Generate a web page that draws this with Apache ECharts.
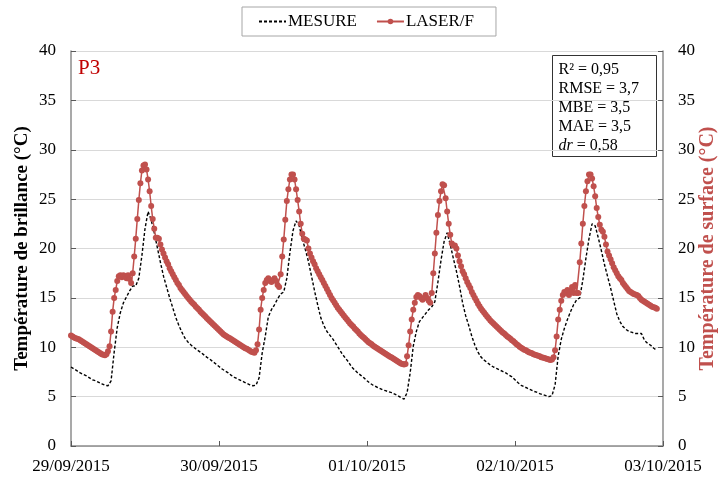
<!DOCTYPE html>
<html>
<head>
<meta charset="utf-8">
<script src="https://cdn.jsdelivr.net/npm/echarts@6/dist/echarts.min.js"></script>
<style>
html,body{margin:0;padding:0;background:#fff;}
#chart{width:720px;height:477px;}
</style>
</head>
<body>
<div id="chart"></div>
<script>
// x axis: hours since 29/09/2015 00:00
const dateLabels = ['29/09/2015', '30/09/2015', '01/10/2015', '02/10/2015', '03/10/2015'];
const yTicks = [0, 5, 10, 15, 20, 25, 30, 35, 40];
const seriesNames = ['MESURE', 'LASER/F'];
const mesureStepHours = 0.5;
const laserStepHours = 0.25;

// MESURE (black dashed), every 30 min
const mesure = [
  8.0, 7.8, 7.6, 7.4, 7.25, 7.1, 6.9, 6.7, 6.6, 6.45,
  6.3, 6.15, 6.1, 6.6, 9.5, 12.0, 13.5, 14.5, 15.1, 15.7,
  16.2, 16.2, 17.0, 19.3, 22.0, 23.75, 22.9, 21.6, 20.1, 18.6,
  17.2, 16.1, 15.0, 14.0, 13.0, 12.2, 11.5, 10.9, 10.5, 10.2,
  9.95, 9.7, 9.5, 9.25, 9.0, 8.8, 8.55, 8.3, 8.05, 7.8,
  7.6, 7.4, 7.15, 6.95, 6.8, 6.65, 6.5, 6.35, 6.2, 6.1,
  6.15, 6.9, 9.4, 11.1, 13.1, 13.8, 14.3, 14.9, 15.4, 15.6,
  17.0, 19.6, 21.8, 22.8, 22.3, 21.0, 19.9, 18.7, 17.2, 15.7,
  14.3, 13.0, 12.2, 11.6, 11.2, 10.8, 10.3, 9.8, 9.3, 8.9,
  8.5, 8.0, 7.7, 7.4, 7.15, 6.9, 6.6, 6.35, 6.15, 6.0,
  5.85, 5.7, 5.6, 5.5, 5.4, 5.25, 5.1, 4.9, 4.75, 5.4,
  7.4, 10.1, 11.6, 12.6, 13.0, 13.4, 13.8, 14.1, 14.6, 16.6,
  18.8, 20.7, 21.6, 20.4, 19.0, 17.7, 16.2, 14.5, 13.2, 12.2,
  11.1, 10.2, 9.5, 9.0, 8.7, 8.45, 8.2, 8.0, 7.85, 7.7,
  7.55, 7.4, 7.2, 7.0, 6.7, 6.4, 6.15, 6.0, 5.85, 5.7,
  5.55, 5.45, 5.3, 5.2, 5.1, 5.0, 5.1, 6.2, 9.1, 10.8,
  11.9, 12.8, 13.6, 14.3, 14.8, 15.0, 16.8, 19.0, 21.0, 22.5,
  22.3, 21.1, 19.8, 18.4, 17.2, 16.0, 14.7, 13.4, 12.6, 12.1,
  11.8, 11.6, 11.5, 11.4, 11.4, 11.4, 10.7, 10.4, 10.2, 9.9,
  9.7
];

// LASER/F (red with markers), every 15 min
const laser = [
  11.2, 11.1, 11.0, 10.9,   10.85, 10.8, 10.7, 10.6,   10.5, 10.4, 10.3, 10.2,
  10.1, 10.0, 9.9, 9.8,     9.7, 9.6, 9.5, 9.4,        9.3, 9.25, 9.2, 9.3,
  9.6, 10.1, 11.6, 13.6,    15.0, 15.8, 16.7, 17.2,    17.3, 17.1, 17.3, 17.2,
  17.0, 17.3, 16.9, 16.5,   17.5, 19.2, 21.0, 23.0,    24.9, 26.6, 27.9, 28.4,
  28.5, 28.0, 27.0, 25.8,   24.3, 23.0, 22.0, 21.1,    21.1, 21.0, 20.4, 19.9,
  19.5, 19.1, 18.7, 18.4,   18.0, 17.7, 17.4, 17.1,    16.8, 16.5, 16.3, 16.0,
  15.8, 15.6, 15.4, 15.2,   15.0, 14.8, 14.6, 14.45,   14.3, 14.1, 13.95, 13.8,
  13.6, 13.45, 13.3, 13.15, 12.95, 12.8, 12.65, 12.5,  12.35, 12.2, 12.05, 11.9,
  11.75, 11.6, 11.45, 11.3, 11.2, 11.1, 11.0, 10.9,    10.8, 10.7, 10.6, 10.5,
  10.4, 10.3, 10.2, 10.1,   10.0, 9.9, 9.85, 9.75,     9.65, 9.55, 9.5, 9.45,
  9.7, 10.3, 11.8, 13.8,    15.0, 15.8, 16.5, 16.8,    17.0, 16.7, 16.6, 16.8,
  17.0, 16.7, 16.3, 16.1,   17.4, 19.2, 20.9, 22.9,    24.8, 26.0, 27.0, 27.5,
  27.5, 27.0, 26.0, 24.9,   23.75, 22.5, 21.5, 21.0,   20.9, 20.8, 20.0, 19.5,
  19.1, 18.7, 18.4, 18.0,   17.7, 17.4, 17.1, 16.8,    16.5, 16.2, 15.9, 15.6,
  15.3, 15.0, 14.75, 14.5,  14.25, 14.0, 13.8, 13.6,   13.4, 13.2, 13.0, 12.8,
  12.6, 12.4, 12.25, 12.1,  11.9, 11.75, 11.6, 11.4,   11.25, 11.1, 10.95, 10.8,
  10.65, 10.5, 10.4, 10.3,  10.15, 10.05, 9.95, 9.85,  9.75, 9.65, 9.55, 9.45,
  9.35, 9.25, 9.15, 9.05,   8.95, 8.85, 8.75, 8.65,    8.55, 8.45, 8.35, 8.3,
  8.25, 8.3, 9.1, 10.2,     11.6, 12.8, 13.8, 14.5,    15.1, 15.3, 15.2, 15.0,
  14.8, 15.0, 15.3, 15.0,   14.7, 14.5, 15.5, 17.5,    19.5, 21.6, 23.4, 24.8,
  25.8, 26.5, 26.4, 25.1,   23.75, 22.5, 21.4, 20.5,   20.3, 20.3, 20.0, 19.3,
  18.7, 18.2, 17.7, 17.4,   17.0, 16.6, 16.3, 16.0,    15.6, 15.3, 15.0, 14.7,
  14.4, 14.15, 13.9, 13.7,  13.5, 13.3, 13.1, 12.9,    12.7, 12.55, 12.4, 12.25,
  12.1, 11.95, 11.8, 11.65, 11.5, 11.4, 11.25, 11.1,   11.0, 10.85, 10.7, 10.6,
  10.45, 10.3, 10.2, 10.05, 9.95, 9.85, 9.75, 9.7,     9.6, 9.5, 9.45, 9.4,
  9.3, 9.25, 9.2, 9.15,     9.1, 9.0, 8.95, 8.9,       8.85, 8.8, 8.75, 8.7,
  8.75, 9.0, 9.7, 11.1,     12.8, 13.8, 14.7, 15.3,    15.6, 15.5, 15.8, 15.3,
  15.6, 16.1, 15.5, 16.3,   15.5, 15.5, 18.6, 20.5,    22.5, 24.3, 25.8, 26.8,
  27.5, 27.5, 27.1, 26.3,   25.3, 24.1, 23.2, 22.4,    21.9, 21.7, 21.2, 20.4,
  19.7, 19.3, 18.9, 18.5,   18.1, 17.8, 17.5, 17.2,    17.0, 16.8, 16.5, 16.3,
  16.1, 15.9, 15.7, 15.6,   15.5, 15.4, 15.35, 15.3,   15.2, 15.0, 14.8, 14.7,
  14.6, 14.5, 14.4, 14.3,   14.2, 14.1, 14.05, 14.0,   13.9
];

const statNames = ['R² = ', 'RMSE = ', 'MBE = ', 'MAE = ', 'dr'];
const statValues = ['0,95', '3,7', '3,5', '3,5', '0,58'];
const panelLabel = 'P3';

const FONT = '"Liberation Serif", "Times New Roman", serif';
const RED = '#c0504d';

const mesurePairs = mesure.map((v, i) => [i * mesureStepHours, v]);
const laserPairs = laser.map((v, i) => [i * laserStepHours, v]);

const chart = echarts.init(document.getElementById('chart'), null, {renderer: 'canvas'});

const statLines = statNames.map((n, i) => {
  if (n === 'dr') return '{it|dr} = ' + statValues[i];
  return n + statValues[i];
}).join('\n');

const yAxisCommon = {
  type: 'value', min: yTicks[0], max: yTicks[yTicks.length - 1], interval: 5,
  axisLine: {show: true, lineStyle: {color: '#8c8c8c', width: 1.5}},
  axisTick: {show: true, inside: true, length: 5, lineStyle: {color: '#595959', width: 1}},
  axisLabel: {color: '#000', fontFamily: FONT, fontSize: 17, margin: 15},
  nameLocation: 'middle', nameRotate: 90, nameMoveOverlap: false,
};

chart.setOption({
  animation: false,
  backgroundColor: '#fff',
  grid: {left: 71, right: 57, top: 51, bottom: 31, containLabel: false, outerBoundsMode: 'none'},
  legend: {
    data: [
      {name: seriesNames[0], itemStyle: {opacity: 0}},
      {name: seriesNames[1]}
    ],
    left: 242, top: 7,
    padding: [6, 22, 6, 16],
    itemGap: 19, itemWidth: 27, itemHeight: 7,
    borderColor: '#a6a6a6', borderWidth: 1,
    textStyle: {fontFamily: FONT, fontSize: 17, color: '#000', padding: [0, 0, 0, -3]},
  },
  xAxis: {
    type: 'value', min: 0, max: 96, interval: 24,
    axisLine: {show: true, lineStyle: {color: '#8c8c8c', width: 1.5}},
    axisTick: {show: true, inside: true, length: 5, lineStyle: {color: '#595959'}},
    splitLine: {show: false},
    axisLabel: {
      color: '#000', fontFamily: FONT, fontSize: 17, margin: 12,
      formatter: v => dateLabels[Math.round(v / 24)] || ''
    },
  },
  yAxis: [
    Object.assign({}, yAxisCommon, {
      position: 'left',
      name: 'Température de brillance (°C)', nameGap: 39,
      nameTextStyle: {fontFamily: FONT, fontSize: 19, fontWeight: 'bold', color: '#000'},
      splitLine: {show: true, lineStyle: {color: '#d9d9d9', width: 1}},
    }),
    Object.assign({}, yAxisCommon, {
      position: 'right',
      name: 'Température de surface (°C)', nameGap: 35,
      nameTextStyle: {fontFamily: FONT, fontSize: 20, fontWeight: 'bold', color: RED},
      splitLine: {show: false},
    })
  ],
  graphic: [
    {
      type: 'text', left: 78, top: 58,
      style: {text: panelLabel, fill: '#c00000', font: '21px ' + FONT}
    },
    {
      type: 'group', left: 552, top: 55,
      children: [
        {type: 'rect', shape: {x: 0, y: 0, width: 104, height: 101},
         style: {fill: '#fff', stroke: '#333', lineWidth: 1}},
        {type: 'text', x: 6, y: 5,
         style: {
           text: statLines, fill: '#000', font: '16px ' + FONT, lineHeight: 19,
           rich: {it: {fontStyle: 'italic', fontFamily: FONT, fontSize: 16, lineHeight: 19}}
         }}
      ]
    }
  ],
  series: [
    {
      name: seriesNames[0], type: 'line', data: mesurePairs, yAxisIndex: 0,
      symbol: 'none', smooth: false,
      lineStyle: {color: '#000', width: 1.4, type: [3, 2]},
      itemStyle: {color: '#000'},
      z: 2
    },
    {
      name: seriesNames[1], type: 'line', data: laserPairs, yAxisIndex: 0,
      symbol: 'circle', symbolSize: 6, showSymbol: true,
      lineStyle: {color: RED, width: 1.5},
      itemStyle: {color: RED},
      z: 3
    },
  ]
});
</script>
</body>
</html>
